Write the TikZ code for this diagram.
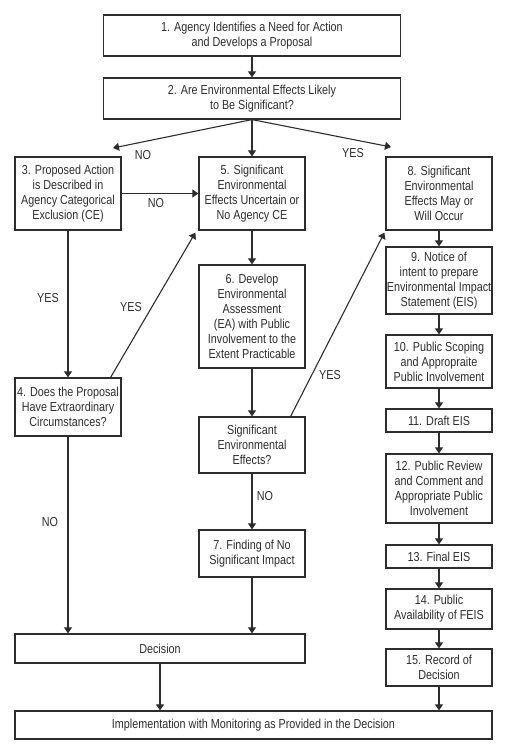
\documentclass[tikz,border=0pt]{standalone}
\usepackage{fontspec}
\setmainfont[FakeStretch=0.83]{Liberation Sans}
\usepackage{tikz}
\usetikzlibrary{arrows.meta}
\definecolor{ink}{RGB}{45,45,45}

\begin{document}
\begin{tikzpicture}[x=1pt, y=-1pt, >={Triangle[length=6pt,width=8pt]},
  every node/.style={font=\fontsize{13}{15}\selectfont, text=ink},
  box/.style={draw=ink, line width=1.2pt, align=center, inner sep=0pt, minimum width=106pt},
  flow/.style={draw=ink, line width=1.1pt}]
\useasboundingbox (0,0) rectangle (516,750);

% top of the chart
\node [box, minimum width=297pt, minimum height=41pt] (agency) at (252,35.5)
  {1. Agency Identifies a Need for Action\\and Develops a Proposal};
\node [box, minimum width=297pt, minimum height=41pt] (likely) at (252,98.5)
  {2. Are Environmental Effects Likely\\to Be Significant?};

% left column
\node [box, minimum height=73pt] (catex) at (68,193.5)
  {3. Proposed Action\\is Described in\\Agency Categorical\\Exclusion (CE)};
\node [box, minimum height=58pt] (circum) at (68,407)
  {4. Does the Proposal\\Have Extraordinary\\Circumstances?};

% middle column
\node [box, minimum height=73pt] (uncertain) at (252,193.5)
  {5. Significant\\Environmental\\Effects Uncertain or\\No Agency CE};
\node [box, minimum height=103pt] (assess) at (252,316.5)
  {6. Develop\\Environmental\\Assessment\\(EA) with Public\\Involvement to the\\Extent Practicable};
\node [box, minimum height=56pt] (sigeff) at (252,445)
  {Significant\\Environmental\\Effects?};
\node [box, minimum height=47pt] (fonsi) at (252,553.5)
  {7. Finding of No\\Significant Impact};

% right column
\node [box, minimum height=73pt] (occur) at (439,193.5)
  {8. Significant\\Environmental\\Effects May or\\Will Occur};
\node [box, minimum height=67pt] (notice) at (439,280.5)
  {9. Notice of\\intent to prepare\\Environmental Impact\\Statement (EIS)};
\node [box, minimum height=53pt] (scoping) at (439,361.5)
  {10. Public Scoping\\and Appropraite\\Public Involvement};
\node [box, minimum height=23pt] (draft) at (439,420.5) {11. Draft EIS};
\node [box, minimum height=69pt] (review) at (439,488.5)
  {12. Public Review\\and Comment and\\Appropriate Public\\Involvement};
\node [box, minimum height=23pt] (final) at (439,556.5) {13. Final EIS};
\node [box, minimum height=40pt] (avail) at (439,609)
  {14. Public\\Availability of FEIS};
\node [box, minimum height=37pt] (record) at (439,667.5)
  {15. Record of\\Decision};

% bottom
\node [box, minimum width=290pt, minimum height=29pt] (decision) at (160,648.5) {Decision};
\node [box, minimum width=477pt, minimum height=28pt] (implement) at (253.5,725)
  {Implementation with Monitoring as Provided in the Decision};

\coordinate (noend) at (113,148);
\coordinate (yesend) at (391,147);

\draw [flow, ->] (agency) -- (likely);
\draw [flow, ->] (likely.south) -- (noend);
\draw [flow, ->] (likely.south) -- (uncertain.north);
\draw [flow, ->] (likely.south) -- (yesend);
\draw [flow, ->] (catex) -- (uncertain);
\draw [flow, ->] (catex) -- (circum);
\draw [flow, ->] ([xshift=-11pt]circum.north east) -- ([xshift=-3pt,yshift=-2pt]uncertain.south west);
\draw [flow, ->] (uncertain) -- (assess);
\draw [flow, ->] (assess) -- (sigeff);
\draw [flow, ->] ([xshift=-15pt]sigeff.north east) -- ([xshift=-1pt,yshift=-2pt]occur.south west);
\draw [flow, ->] (sigeff) -- (fonsi);
\draw [flow, ->] (fonsi.south) -- (fonsi.south |- decision.north);
\draw [flow, ->] (circum.south) -- (circum.south |- decision.north);
\draw [flow, ->] (decision.south) -- (decision.south |- implement.north);

\foreach \a/\b in {occur/notice, notice/scoping, scoping/draft, draft/review,
                   review/final, final/avail, avail/record}
  \draw [flow, ->] (\a) -- (\b);
\draw [flow, ->] (record.south) -- (record.south |- implement.north);

% branch labels
\node (no-top) at (143,155) {NO};
\node (yes-top) at (353,153) {YES};
\node (no-ce) at (156,203) {NO};
\node (yes-ce) at (48,298) {YES};
\node (yes-circ) at (131,307) {YES};
\node (yes-sig) at (330,375) {YES};
\node (no-sig) at (265,496) {NO};
\node (no-circ) at (50,522) {NO};
\end{tikzpicture}
\end{document}
